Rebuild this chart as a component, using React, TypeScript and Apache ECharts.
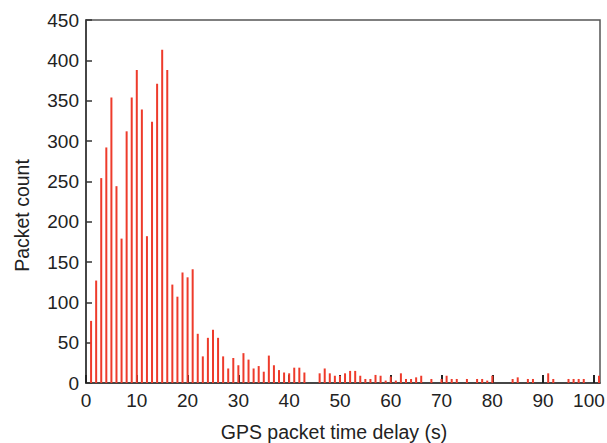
import React, { useEffect, useRef } from "react";
import * as echarts from "echarts";

// Histogram bins (seconds) and packet counts
const binSeconds = [
  1, 2, 3, 4, 5, 6, 7, 8, 9, 10, 11, 12, 13, 14, 15, 16, 17, 18, 19, 20,
  21, 22, 23, 24, 25, 26, 27, 28, 29, 30, 31, 32, 33, 34, 35, 36, 37, 38, 39, 40,
  41, 42, 43, 46, 47, 48, 49, 50, 51, 52, 53, 54, 55, 56, 57, 58, 59, 60,
  61, 62, 63, 64, 65, 66, 68, 70, 71, 72, 73, 75, 77, 78, 79, 80,
  84, 85, 87, 88, 91, 92, 95, 96, 97, 98, 101,
];
const packetCounts = [
  77, 127, 254, 292, 354, 244, 179, 312, 354, 388, 339, 182, 324, 371, 413, 388, 122, 107, 137, 131,
  141, 61, 33, 56, 66, 56, 33, 18, 31, 22, 37, 29, 18, 21, 14, 34, 22, 16, 13, 12,
  19, 19, 13, 12, 18, 12, 9, 9, 12, 15, 15, 9, 5, 5, 10, 9, 3, 8,
  3, 12, 5, 5, 7, 9, 5, 5, 9, 5, 5, 5, 5, 5, 3, 9,
  5, 7, 5, 5, 12, 5, 5, 5, 5, 5, 9,
];
const xTickValues = [0, 10, 20, 30, 40, 50, 60, 70, 80, 90, 100];
const xTitle = "GPS packet time delay (s)";
const yTitle = "Packet count";

const FONT = "'Liberation Sans', Arial, Helvetica, sans-serif";
const LABEL_SIZE = 19;

export default function App() {
  const ref = useRef<HTMLDivElement>(null);
  useEffect(() => {
    if (!ref.current) return;
    const chart = echarts.init(ref.current, undefined, { renderer: "svg" });
    const data = binSeconds.map((s, i) => [s, packetCounts[i]]);
    const lastTick = xTickValues[xTickValues.length - 1];
    chart.setOption({
      animation: false,
      backgroundColor: "#ffffff",
      grid: {
        left: 86,
        right: 7,
        top: 20,
        bottom: 60,
        containLabel: false,
        outerBoundsMode: "none",
        show: true,
        borderColor: "#555555",
        borderWidth: 1.5,
        backgroundColor: "transparent",
      },
      xAxis: {
        type: "value",
        min: 0,
        max: 101.2,
        interval: 10,
        name: xTitle,
        nameLocation: "middle",
        nameGap: 39,
        nameTextStyle: {
          fontFamily: FONT,
          fontSize: 19.5,
          color: "#222222",
          padding: [0, 18, 0, 0],
        },
        axisLine: { show: true, lineStyle: { color: "#333333", width: 1.5 } },
        axisTick: {
          show: true,
          inside: true,
          length: 8,
          customValues: xTickValues,
          lineStyle: { color: "#222222", width: 2 },
        },
        axisLabel: {
          customValues: xTickValues,
          fontFamily: FONT,
          fontSize: LABEL_SIZE,
          color: "#222222",
          margin: 8,
          formatter: (v: number) => (v === lastTick ? `{last|${v}}` : String(v)),
          rich: {
            last: {
              fontFamily: FONT,
              fontSize: LABEL_SIZE,
              color: "#222222",
              padding: [0, 10, 0, 0],
            },
          },
        },
        splitLine: { show: false },
      },
      yAxis: {
        type: "value",
        min: 0,
        max: 450,
        interval: 50,
        name: yTitle,
        nameLocation: "middle",
        nameGap: 54,
        nameTextStyle: {
          fontFamily: FONT,
          fontSize: 19.5,
          color: "#222222",
          padding: [0, 28, 0, 0],
        },
        axisLine: { show: true, lineStyle: { color: "#333333", width: 1.5 } },
        axisTick: {
          show: true,
          inside: true,
          length: 6,
          lineStyle: { color: "#333333", width: 1.5 },
        },
        axisLabel: {
          fontFamily: FONT,
          fontSize: LABEL_SIZE,
          color: "#222222",
          margin: 7,
        },
        splitLine: { show: false },
      },
      series: [
        {
          type: "bar",
          data,
          barWidth: 2,
          itemStyle: { color: "#ee3b2b" },
        },
      ],
    });
    return () => chart.dispose();
  }, []);
  return (
    <div
      ref={ref}
      style={{ position: "fixed", left: 0, top: 0, width: 607, height: 443 }}
    />
  );
}
